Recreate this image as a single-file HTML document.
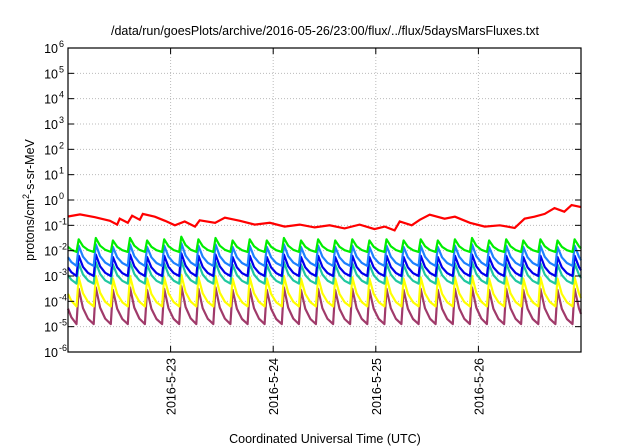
<!DOCTYPE html>
<html><head><meta charset="utf-8"><style>
html,body{margin:0;padding:0;background:#fff}
svg{display:block;font-family:"Liberation Sans",sans-serif}
</style></head><body>
<svg id="c" width="640" height="448" viewBox="0 0 640 448">
<rect width="640" height="448" fill="#fff"/>
<text x="325" y="35" font-size="12.5" text-anchor="middle">/data/run/goesPlots/archive/2016-05-26/23:00/flux/../flux/5daysMarsFluxes.txt</text>
<text transform="translate(34,200) rotate(-90)" font-size="12.5" text-anchor="middle">protons/cm<tspan dy="-5" font-size="9">2</tspan><tspan dy="5">-s-sr-MeV</tspan></text>
<text x="325" y="443" font-size="12.5" text-anchor="middle">Coordinated Universal Time (UTC)</text>
<g id="grid"></g><g id="series"></g><g id="axes"></g>
</svg>
<script>
const yExps=[-6,-5,-4,-3,-2,-1,0,1,2,3,4,5,6];
const xTickLabels=["2016-5-23","2016-5-24","2016-5-25","2016-5-26"];
const xTickHours=[24,48,72,96];
const redHours=[0,2.8,6.3,9.8,11.5,12.1,14,15,16.8,17.5,20.3,22.7,25,27.3,29.7,30.8,34.4,36.7,40.2,43.7,47.2,50.7,54.2,57.7,61.2,64.7,68.2,71.7,74.1,76.4,77.6,80.4,82.3,84.6,88.1,90.5,94,97.5,101,104.5,106.8,109.1,111.5,113.8,116.1,117.8,120];
const redLog=[-0.65,-0.57,-0.68,-0.82,-0.97,-0.74,-0.9,-0.62,-0.78,-0.55,-0.66,-0.82,-1.0,-0.85,-1.05,-0.8,-0.9,-0.7,-0.82,-0.97,-0.9,-1.05,-0.97,-1.08,-1.0,-1.12,-0.97,-1.15,-1.05,-1.2,-0.85,-1.0,-0.78,-0.58,-0.74,-0.66,-0.9,-1.05,-1.0,-1.1,-0.74,-0.66,-0.55,-0.32,-0.46,-0.2,-0.28];
const toothHours=[2,6,10,14,18,22,26,30,34,38,42,46,50,54,58,62,66,70,74,78,82,86,90,94,98,102,106,110,114,118];
const toothBoost=[0.05,0.1,0,0.1,0,0.05,0.15,0.05,0.1,0,0.05,0,0.1,0,0.05,0,0.05,0,0.05,0,0.05,0,0.05,0.1,0,0.05,0,0.05,0,0.05];
const seriesColors=["#00ee00","#1e80ff","#0000ee","#20c8a0","#ffff00","#a03a6a"];
const seriesPeak=[-1.6,-1.85,-2.25,-2.55,-3.1,-3.55];
const seriesTrough=[-2.05,-2.6,-3.0,-3.3,-4.2,-4.9];
const X0=68,X1=581,Y0=48,Y1=352;
function xs(h){return X0+(X1-X0)*h/120;}
function ys(l){return Y1-(Y1-Y0)*(l+6)/12;}
const NS="http://www.w3.org/2000/svg";
function mk(t,a,p){const e=document.createElementNS(NS,t);for(const k in a)e.setAttribute(k,a[k]);p.appendChild(e);return e;}
const grid=document.getElementById('grid'),axes=document.getElementById('axes'),ser=document.getElementById('series');
yExps.forEach(e=>{const y=ys(e);
 if(e>-6&&e<6){const g=mk('line',{x1:X0,x2:X1,y1:y,y2:y,stroke:'#bbb','stroke-dasharray':'1,2','stroke-width':1},grid);
 
 }
 const t=mk('line',{x1:X0,x2:X0+6,y1:y,y2:y,stroke:'#000'},axes);
 
 
 const t2=mk('line',{x1:X1-6,x2:X1,y1:y,y2:y,stroke:'#000'},axes);
 
 
 const tx=mk('text',{x:58,y:y+5,'font-size':12.5,'text-anchor':'end'},axes);
 
 
 tx.textContent='10';
 const s=mk('tspan',{x:59,dy:-6,'font-size':9,'text-anchor':'start'},tx);s.textContent=String(e);
});
xTickHours.forEach((h,i)=>{const x=xs(h);
 const g=mk('line',{x1:x,x2:x,y1:Y0,y2:Y1,stroke:'#bbb','stroke-dasharray':'1,2'},grid);
 
 
 const t=mk('line',{x1:x,x2:x,y1:Y1-6,y2:Y1,stroke:'#000'},axes);
 
 
 const t2=mk('line',{x1:x,x2:x,y1:Y0,y2:Y0+6,stroke:'#000'},axes);
 
 
 const tx=mk('text',{transform:`translate(${x+5},${Y1+63}) rotate(-90)`,'font-size':12.5},axes);
 
 
 tx.textContent=xTickLabels[i];
});
const fr=mk('rect',{x:X0,y:Y0,width:X1-X0,height:Y1-Y0,fill:'none',stroke:'#000','stroke-width':1.2},axes);


// sawtooth series with curved decay (draw bottom to top)
for(let s=seriesColors.length-1;s>=0;s--){
 const pk=seriesPeak[s],tr=seriesTrough[s],A=pk-tr;
 let pts=[[0,pk-A*0.55],[0.8,pk-A*0.8]];
 toothHours.forEach((h,i)=>{
  const p=pk+toothBoost[i];
  pts.push([h,tr]);
  pts.push([h+0.5,p]);
  const nh=i+1<toothHours.length?toothHours[i+1]:122;
  const per=nh-h;
  pts.push([h+0.5+per*0.25,p-(p-tr)*0.55]);
  pts.push([h+0.5+per*0.55,p-(p-tr)*0.85]);
 });
 const last=toothHours[toothHours.length-1];
 pts=pts.filter(q=>q[0]<=120);
 pts.push([120,pk-A*0.7]);
 const pl=mk('polyline',{points:pts.map(q=>xs(q[0]).toFixed(1)+','+ys(q[1]).toFixed(1)).join(' '),fill:'none',stroke:seriesColors[s],'stroke-width':2.2,'stroke-linejoin':'round'},ser);
 
 
}
const rp=mk('polyline',{points:redHours.map((h,i)=>xs(h).toFixed(1)+','+ys(redLog[i]).toFixed(1)).join(' '),fill:'none',stroke:'#ff0000','stroke-width':2.2},ser);


</script>
</body></html>
